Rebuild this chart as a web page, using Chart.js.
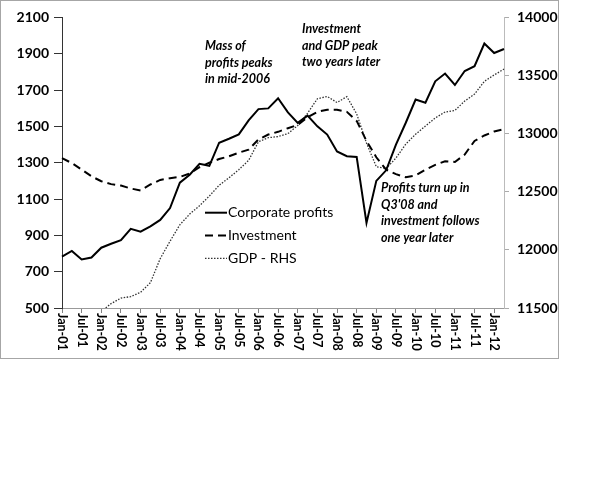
<!DOCTYPE html>
<html lang="en">
<head>
    <meta charset="UTF-8">
    <title>Profits, investment and GDP</title>
    <script src="https://cdn.jsdelivr.net/npm/chart.js"></script>
    <style>
        html, body { margin: 0; padding: 0; background: #fff; }
        #box { position: absolute; left: 0; top: 0; width: 559px; height: 359px; box-sizing: border-box; border: 1px solid #a6a6a6; }
        canvas { display: block; }
    </style>
</head>
<body>

<div id="box"><canvas id="chart" width="557" height="357"></canvas></div>

<script>
    // quarterly, Q1 2001 - Q2 2012
    const quarters = [
        'Jan-01', 'Apr-01', 'Jul-01', 'Oct-01', 'Jan-02', 'Apr-02', 'Jul-02', 'Oct-02',
        'Jan-03', 'Apr-03', 'Jul-03', 'Oct-03', 'Jan-04', 'Apr-04', 'Jul-04', 'Oct-04',
        'Jan-05', 'Apr-05', 'Jul-05', 'Oct-05', 'Jan-06', 'Apr-06', 'Jul-06', 'Oct-06',
        'Jan-07', 'Apr-07', 'Jul-07', 'Oct-07', 'Jan-08', 'Apr-08', 'Jul-08', 'Oct-08',
        'Jan-09', 'Apr-09', 'Jul-09', 'Oct-09', 'Jan-10', 'Apr-10', 'Jul-10', 'Oct-10',
        'Jan-11', 'Apr-11', 'Jul-11', 'Oct-11', 'Jan-12', 'Apr-12'
    ];

    const profits = [
        783, 814, 767, 778, 832, 854, 873, 936, 920, 949, 985, 1050,
        1190, 1234, 1294, 1283, 1410, 1432, 1456, 1533, 1595, 1599, 1655, 1577,
        1519, 1559, 1500, 1455, 1362, 1336, 1332, 968, 1200, 1258, 1400, 1520,
        1648, 1630, 1748, 1791, 1728, 1805, 1831, 1956, 1904, 1926
    ];

    const investment = [
        1325, 1298, 1262, 1225, 1198, 1182, 1174, 1158, 1147, 1180, 1205, 1215,
        1222, 1240, 1275, 1300, 1320, 1335, 1355, 1372, 1428, 1455, 1470, 1490,
        1508, 1550, 1580, 1592, 1592, 1580, 1530, 1420, 1330, 1262, 1237, 1220,
        1230, 1262, 1288, 1308, 1304, 1345, 1420, 1450, 1472, 1485
    ];

    const gdp = [
        11380, 11360, 11390, 11420, 11470, 11538, 11585, 11598, 11635, 11718, 11925, 12075,
        12216, 12308, 12380, 12463, 12556, 12620, 12690, 12770, 12930, 12965, 12975, 13000,
        13070, 13175, 13300, 13320, 13268, 13318, 13170, 12920, 12715, 12700, 12790, 12910,
        12995, 13065, 13135, 13186, 13200, 13280, 13340, 13450, 13505, 13555
    ];

    const notes = [
        { x: 204, y: 45, lines: ['Mass of', 'profits peaks', 'in mid-2006'] },
        { x: 301, y: 28, lines: ['Investment', 'and GDP peak', 'two years later'] },
        { x: 380, y: 187, lines: ['Profits turn up in', "Q3'08 and", 'investment follows', 'one year later'] }
    ];

    const FONT = 'Lato, "Open Sans", sans-serif';

    // x labels read top-to-bottom, so draw them by hand
    const xLabels = {
        id: 'xLabels',
        afterDraw(chart) {
            const { ctx } = chart;
            const x = chart.scales.x;
            ctx.save();
            ctx.font = 'bold 12.5px ' + FONT;
            ctx.fillStyle = '#000';
            ctx.textAlign = 'left';
            ctx.textBaseline = 'middle';
            quarters.forEach((q, i) => {
                if (i % 2) return;
                ctx.save();
                ctx.translate(x.getPixelForValue(i), x.top + 5);
                ctx.rotate(Math.PI / 2);
                ctx.fillText(q, 0, 0);
                ctx.restore();
            });
            ctx.restore();
        }
    };

    const legendBox = {
        id: 'legendBox',
        afterDatasetsDraw(chart) {
            const { ctx } = chart;
            ctx.save();
            ctx.font = '14px ' + FONT;
            ctx.textBaseline = 'middle';
            ctx.fillStyle = '#000';
            chart.data.datasets.forEach((ds, i) => {
                const y = 211.7 + i * 22.8;
                ctx.beginPath();
                ctx.setLineDash(ds.borderDash || []);
                ctx.lineWidth = ds.borderWidth;
                ctx.strokeStyle = ds.borderColor;
                ctx.moveTo(204, y);
                ctx.lineTo(226, y);
                ctx.stroke();
                ctx.setLineDash([]);
                ctx.fillText(ds.label, 227, y);
            });
            ctx.restore();
        }
    };

    const noteText = {
        id: 'noteText',
        afterDraw(chart) {
            const { ctx } = chart;
            ctx.save();
            ctx.font = 'italic bold 12.5px ' + FONT;
            ctx.fillStyle = '#000';
            ctx.textBaseline = 'middle';
            notes.forEach(n => {
                n.lines.forEach((t, k) => ctx.fillText(t, n.x, n.y + k * 16.7));
            });
            ctx.restore();
        }
    };

    const plain = v => String(v);

    new Chart(document.getElementById('chart').getContext('2d'), {
        type: 'line',
        data: {
            labels: quarters,
            datasets: [
                {
                    label: 'Corporate profits',
                    data: profits,
                    borderColor: '#000',
                    borderWidth: 2,
                    yAxisID: 'y'
                },
                {
                    label: 'Investment',
                    data: investment,
                    borderColor: '#000',
                    borderWidth: 2,
                    borderDash: [8, 5],
                    yAxisID: 'y'
                },
                {
                    label: 'GDP - RHS',
                    data: gdp,
                    borderColor: '#333',
                    borderWidth: 1.3,
                    borderDash: [1.5, 1.5],
                    yAxisID: 'y2'
                }
            ]
        },
        options: {
            responsive: false,
            animation: false,
            events: [],
            elements: { point: { radius: 0 }, line: { tension: 0, fill: false } },
            layout: { padding: { top: 13, left: 0, right: 0, bottom: 0 } },
            plugins: { legend: { display: false }, tooltip: { enabled: false } },
            scales: {
                x: {
                    offset: false,
                    grid: {
                        drawOnChartArea: false,
                        tickLength: 5,
                        color: c => (c.index % 2 === 0 ? '#808080' : 'rgba(0,0,0,0)')
                    },
                    border: { color: '#999' },
                    ticks: { display: false, autoSkip: false },
                    afterFit: s => { s.height = 50; }
                },
                y: {
                    position: 'left',
                    min: 500,
                    max: 2100,
                    ticks: { stepSize: 200, padding: 5, color: '#000', callback: plain, font: { family: FONT, size: 14, weight: 'bold' } },
                    grid: { drawOnChartArea: false, tickLength: 8, color: '#333' },
                    border: { color: '#333' },
                    afterFit: s => { s.width = 61; }
                },
                y2: {
                    position: 'right',
                    min: 11500,
                    max: 14000,
                    ticks: { stepSize: 500, padding: 8, color: '#000', callback: plain, font: { family: FONT, size: 14, weight: 'bold' } },
                    grid: { drawOnChartArea: false, tickLength: 5, color: '#aaa' },
                    border: { color: '#bbb' },
                    afterFit: s => { s.width = 54; }
                }
            }
        },
        plugins: [xLabels, legendBox, noteText]
    });
</script>

</body>
</html>
